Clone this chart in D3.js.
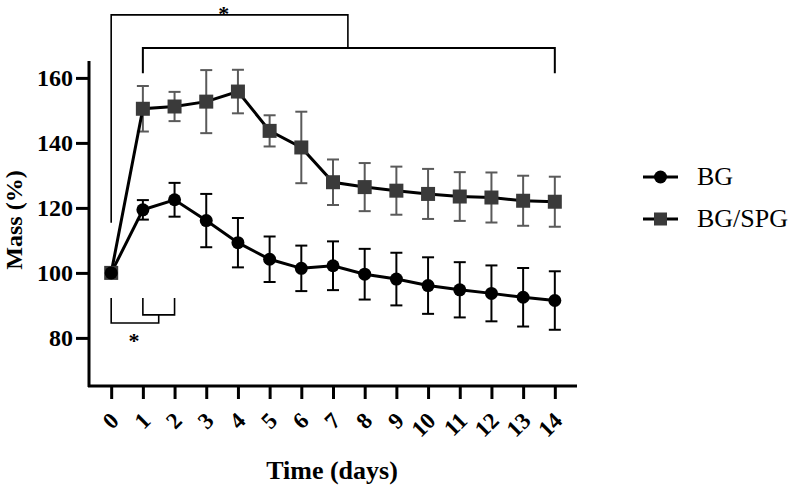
<!DOCTYPE html>
<html>
<head>
<meta charset="utf-8">
<script src="https://cdn.jsdelivr.net/npm/d3@7"></script>
<style>
  body { margin: 0; background: #fff; }
  svg { display: block; }
  text { font-family: "Liberation Serif", "Times New Roman", serif; }
</style>
</head>
<body>
<svg id="chart" width="793" height="489"></svg>
<script>
const days = [0, 1, 2, 3, 4, 5, 6, 7, 8, 9, 10, 11, 12, 13, 14];
const bgMean = [100, 119.4, 122.5, 116.1, 109.3, 104.2, 101.4, 102.2, 99.6, 98.1, 96.1, 94.8, 93.7, 92.5, 91.5];
const bgErr = [0, 3, 5.2, 8.2, 7.6, 7, 7, 7.5, 7.8, 8.1, 8.7, 8.5, 8.6, 9, 9];
const spgMean = [100, 150.5, 151.2, 152.7, 155.8, 143.7, 138.6, 127.9, 126.4, 125.3, 124.3, 123.5, 123.2, 122.2, 121.9];
const spgErr = [0, 7, 4.5, 9.7, 6.7, 4.8, 11, 7, 7.4, 7.4, 7.7, 7.5, 7.7, 7.7, 7.7];
const yTicks = [80, 100, 120, 140, 160];
const seriesNames = ["BG", "BG/SPG"];

const chart = d3.select("#chart");

const xScale = d3.scaleLinear().domain([-0.7, 14.7]).range([89, 577]);
const yScale = d3.scaleLinear().domain([65.2, 165.2]).range([386, 61]);

const bg = days.map((d, i) => ({ day: d, mean: bgMean[i], err: bgErr[i] }));
const spg = days.map((d, i) => ({ day: d, mean: spgMean[i], err: spgErr[i] }));

// axes
const xAxis = d3.axisBottom(xScale).tickValues(days).tickSize(13).tickSizeOuter(0).tickFormat(d3.format("d"));
const yAxis = d3.axisLeft(yScale).tickValues(yTicks).tickSize(13).tickSizeOuter(0);

const gx = chart.append("g").attr("transform", "translate(0, 386)").call(xAxis);
gx.select(".domain").attr("stroke-width", 3).attr("d", "M88,0H577");
gx.selectAll(".tick line").attr("stroke-width", 3);
gx.selectAll(".tick text")
  .attr("x", 1)
  .attr("y", 0)
  .attr("dy", "0.35em")
  .attr("text-anchor", "end")
  .attr("transform", "translate(2, 31) rotate(-45)")
  .style("font-size", "23px")
  .style("font-weight", "bold")
  .style("font-family", "'Liberation Serif', 'Times New Roman', serif")
  .attr("fill", "#000");

const gy = chart.append("g").attr("transform", "translate(89, 0)").call(yAxis);
gy.select(".domain").attr("stroke-width", 3).attr("d", "M0,61V387");
gy.selectAll(".tick line").attr("stroke-width", 3);
gy.selectAll(".tick text")
  .attr("x", -16)
  .style("font-size", "24px")
  .style("font-weight", "bold")
  .style("font-family", "'Liberation Serif', 'Times New Roman', serif")
  .attr("fill", "#000");

chart
  .append("text")
  .attr("x", 332)
  .attr("y", 479)
  .attr("text-anchor", "middle")
  .style("font-size", "26px")
  .style("font-weight", "bold")
  .text("Time (days)");

chart
  .append("text")
  .attr("x", -220)
  .attr("y", 22)
  .attr("text-anchor", "middle")
  .attr("transform", "rotate(-90)")
  .style("font-size", "24px")
  .style("font-weight", "bold")
  .text("Mass (%)");

// significance brackets
const bracketPath = (pts) => d3.line()(pts.map((p) => [xScale(p[0]), yScale(p[1])]));

const brackets = [
  { pts: [[0, 115.4], [0, 179.4], [7.47, 179.4], [7.47, 169.2]], w: 1.6 },
  { pts: [[1, 161.4], [1, 169.2], [14, 169.2], [14, 161.4]], w: 2 },
  { pts: [[1, 92.3], [1, 87.1], [2, 87.1], [2, 92.3]], w: 1.6 },
  { pts: [[0, 92.3], [0, 84.6], [1.5, 84.6], [1.5, 87.1]], w: 1.6 },
];

chart
  .selectAll(".bracket")
  .data(brackets)
  .enter()
  .append("path")
  .attr("class", "bracket")
  .attr("d", (d) => bracketPath(d.pts))
  .attr("fill", "none")
  .attr("stroke", "#000")
  .attr("stroke-width", (d) => d.w);

const stars = [[3.55, 177.4], [0.72, 77.0]];
chart
  .selectAll(".star")
  .data(stars)
  .enter()
  .append("text")
  .attr("class", "star")
  .attr("x", (d) => xScale(d[0]))
  .attr("y", (d) => yScale(d[1]))
  .attr("text-anchor", "middle")
  .style("font-size", "22px")
  .style("font-weight", "bold")
  .text("*");

// series
const line = d3.line().x((d) => xScale(d.day)).y((d) => yScale(d.mean));

const drawErrors = (data, color, cls) => {
  const g = chart.append("g").attr("class", cls);
  const bars = g.selectAll("g").data(data.filter((d) => d.err > 0)).enter().append("g");
  bars
    .append("line")
    .attr("x1", (d) => xScale(d.day))
    .attr("x2", (d) => xScale(d.day))
    .attr("y1", (d) => yScale(d.mean + d.err))
    .attr("y2", (d) => yScale(d.mean - d.err));
  bars
    .append("line")
    .attr("x1", (d) => xScale(d.day) - 6)
    .attr("x2", (d) => xScale(d.day) + 6)
    .attr("y1", (d) => yScale(d.mean + d.err))
    .attr("y2", (d) => yScale(d.mean + d.err));
  bars
    .append("line")
    .attr("x1", (d) => xScale(d.day) - 6)
    .attr("x2", (d) => xScale(d.day) + 6)
    .attr("y1", (d) => yScale(d.mean - d.err))
    .attr("y2", (d) => yScale(d.mean - d.err));
  g.selectAll("line").attr("stroke", color).attr("stroke-width", 2);
};

drawErrors(spg, "#5a5a5a", "err-spg");
drawErrors(bg, "#000", "err-bg");

chart.append("path").datum(spg).attr("d", line).attr("fill", "none").attr("stroke", "#000").attr("stroke-width", 3);
chart.append("path").datum(bg).attr("d", line).attr("fill", "none").attr("stroke", "#000").attr("stroke-width", 3);

chart
  .selectAll(".sq")
  .data(spg)
  .enter()
  .append("rect")
  .attr("class", "sq")
  .attr("x", (d) => xScale(d.day) - 7)
  .attr("y", (d) => yScale(d.mean) - 7)
  .attr("width", 14)
  .attr("height", 14)
  .attr("fill", "#3a3a3a");

chart
  .selectAll(".dot")
  .data(bg)
  .enter()
  .append("circle")
  .attr("class", "dot")
  .attr("cx", (d) => xScale(d.day))
  .attr("cy", (d) => yScale(d.mean))
  .attr("r", 6.5)
  .attr("fill", "#000");

// legend
const legend = chart.append("g").attr("transform", "translate(643, 177)");
seriesNames.forEach((name, i) => {
  const row = legend.append("g").attr("transform", `translate(0, ${i * 42})`);
  row.append("line").attr("x1", 0).attr("x2", 35).attr("stroke", "#000").attr("stroke-width", 3);
  if (i === 0) {
    row.append("circle").attr("cx", 17.5).attr("r", 6.5).attr("fill", "#000");
  } else {
    row.append("rect").attr("x", 11).attr("y", -6.5).attr("width", 13).attr("height", 13).attr("fill", "#3a3a3a");
  }
  row
    .append("text")
    .attr("x", 54)
    .attr("y", 8)
    .style("font-size", "26px")
    .text(name);
});
</script>
</body>
</html>
